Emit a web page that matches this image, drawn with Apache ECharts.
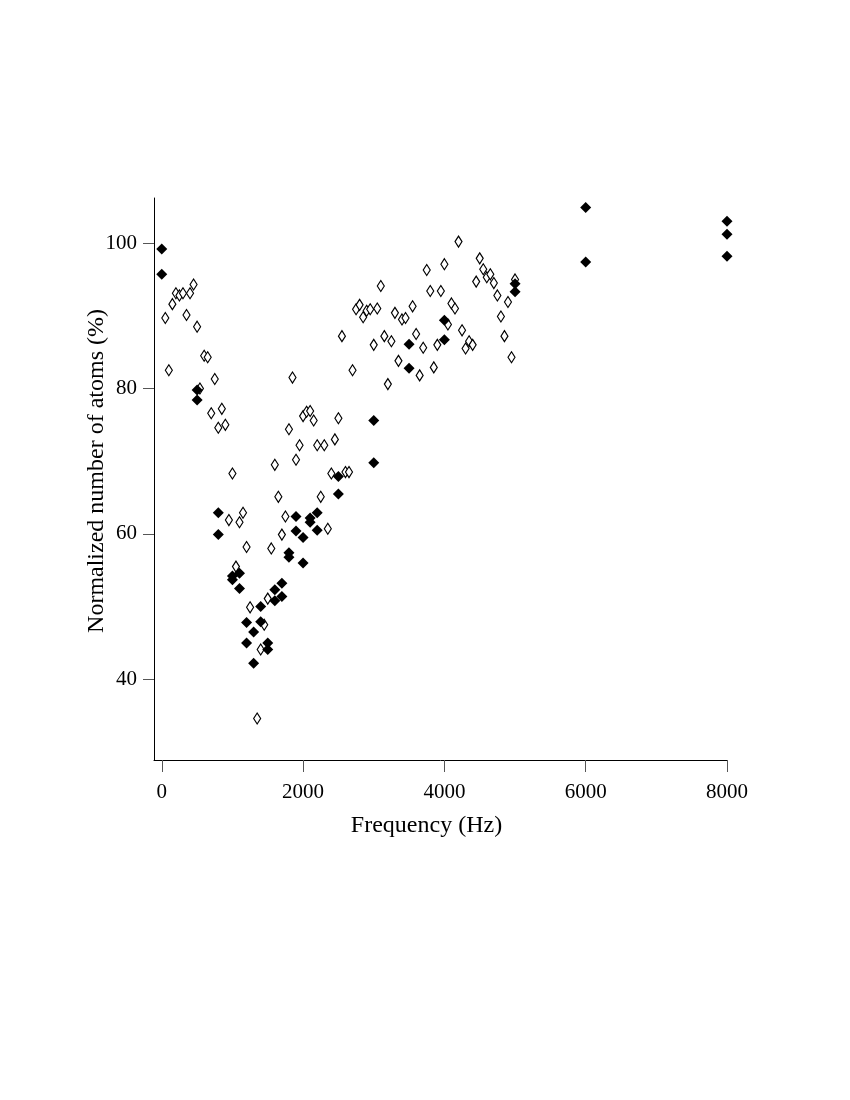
<!DOCTYPE html>
<html lang="en">
<head>
    <meta charset="UTF-8">
    <title>Normalized number of atoms</title>
    <script src="https://cdn.jsdelivr.net/npm/echarts@6/dist/echarts.min.js"></script>
    <style>
        *{
            margin: 0;
            padding: 0;
        }
        body{
            background: #fff;
        }
        .container{
            width: 850px;
            height: 1100px;
        }
    </style>
</head>
<body>
<div class="container"></div>
<script>
    // tick labels
    let xTicks = [0, 2000, 4000, 6000, 8000];
    let yTicks = [40, 60, 80, 100];

    // filled diamonds: [frequency (Hz), normalized atoms (%)]
    let filledPoints = [
        [0, 99.2], [0, 95.7], [500, 79.8], [500, 78.4], [800, 62.9], [800, 59.9],
        [1000, 54.2], [1000, 53.7], [1100, 54.6], [1100, 52.5], [1200, 47.8], [1200, 45.0],
        [1300, 46.5], [1300, 42.2], [1400, 50.0], [1400, 47.9], [1500, 45.0], [1500, 44.1],
        [1600, 52.3], [1600, 50.8], [1700, 53.2], [1700, 51.4], [1800, 57.4], [1800, 56.8],
        [1900, 62.4], [1900, 60.4], [2000, 59.5], [2000, 56.0], [2100, 62.2], [2100, 61.6],
        [2200, 62.9], [2200, 60.5], [2500, 67.9], [2500, 65.5], [3000, 75.6], [3000, 69.8],
        [3500, 86.1], [3500, 82.8], [4000, 89.4], [4000, 86.7], [5000, 94.4], [5000, 93.3],
        [6000, 104.9], [6000, 97.4], [8000, 103.0], [8000, 101.2], [8000, 98.2]
    ];

    // open diamonds
    let openPoints = [
        [50, 89.7], [100, 82.5], [150, 91.6], [200, 93.1], [250, 92.8], [300, 93.1],
        [350, 90.1], [400, 93.1], [450, 94.3], [500, 88.5], [540, 80.0], [600, 84.5],
        [650, 84.3], [700, 76.6], [750, 81.3], [800, 74.6], [850, 77.2], [900, 75.0],
        [950, 61.9], [1000, 68.3], [1050, 55.5], [1100, 61.6], [1150, 62.9], [1200, 58.2],
        [1250, 49.9], [1350, 34.6], [1400, 44.1], [1450, 47.5], [1500, 51.1], [1550, 58.0],
        [1600, 69.5], [1650, 65.1], [1700, 59.9], [1750, 62.4], [1800, 74.4], [1850, 81.5],
        [1900, 70.2], [1950, 72.2], [2000, 76.2], [2050, 76.8], [2100, 76.9], [2150, 75.6],
        [2200, 72.2], [2250, 65.1], [2300, 72.2], [2350, 60.7], [2400, 68.3], [2450, 73.0],
        [2500, 75.9], [2550, 87.2], [2600, 68.5], [2650, 68.5], [2700, 82.5], [2750, 90.9],
        [2800, 91.5], [2850, 89.8], [2900, 90.7], [2950, 90.9], [3000, 86.0], [3050, 91.0],
        [3100, 94.1], [3150, 87.2], [3200, 80.6], [3250, 86.5], [3300, 90.4], [3350, 83.8],
        [3400, 89.5], [3450, 89.7], [3550, 91.3], [3600, 87.5], [3650, 81.8], [3700, 85.6],
        [3750, 96.3], [3800, 93.4], [3850, 82.9], [3900, 86.0], [3950, 93.4], [4000, 97.1],
        [4050, 88.8], [4100, 91.7], [4150, 91.0], [4200, 100.2], [4250, 88.0], [4300, 85.5],
        [4350, 86.5], [4400, 86.0], [4450, 94.7], [4500, 97.9], [4550, 96.4], [4600, 95.3],
        [4650, 95.7], [4700, 94.5], [4750, 92.8], [4800, 89.9], [4850, 87.2], [4900, 91.9],
        [4950, 84.3], [5000, 95.0]
    ];

    let main = document.querySelector(".container");
    let mycharts = echarts.init(main);

    let font = 'Liberation Serif';

    let Option = {
        backgroundColor: '#fff',
        animation: false,
        grid: {
            left: 154,
            right: 123,
            top: 198,
            bottom: 340
        },
        xAxis: {
            type: 'value',
            min: -110,
            max: 8000,
            name: 'Frequency (Hz)',
            nameLocation: 'middle',
            nameGap: 54,
            nameMoveOverlap: false,
            nameTextStyle: {
                fontFamily: font,
                fontSize: 24,
                color: '#000',
                padding: [0, 28, 0, 0]
            },
            axisLine: {
                onZero: false,
                lineStyle: { color: '#000', width: 1 }
            },
            axisTick: {
                customValues: xTicks,
                length: 12,
                lineStyle: { color: '#555', width: 1 }
            },
            axisLabel: {
                customValues: xTicks,
                formatter: v => String(v),
                margin: 22,
                fontFamily: font,
                fontSize: 21,
                color: '#000'
            },
            splitLine: { show: false }
        },
        yAxis: {
            type: 'value',
            min: 28.9,
            max: 106.2,
            name: 'Normalized number of atoms (%)',
            nameLocation: 'middle',
            nameGap: 45,
            nameMoveOverlap: false,
            nameTextStyle: {
                fontFamily: font,
                fontSize: 24,
                color: '#000',
                padding: [0, 0, 0, 16]
            },
            axisLine: {
                show: true,
                onZero: false,
                lineStyle: { color: '#000', width: 1 }
            },
            axisTick: {
                show: true,
                customValues: yTicks,
                length: 11,
                lineStyle: { color: '#555', width: 1 }
            },
            axisLabel: {
                customValues: yTicks,
                formatter: v => String(v),
                margin: 17,
                fontFamily: font,
                fontSize: 21,
                color: '#000'
            },
            splitLine: { show: false }
        },
        series: [
            {
                name: 'open',
                type: 'scatter',
                data: openPoints,
                symbol: 'diamond',
                symbolSize: [7, 11],
                itemStyle: {
                    color: '#fff',
                    borderColor: '#000',
                    borderWidth: 1.2,
                    opacity: 1
                },
                z: 2
            },
            {
                name: 'filled',
                type: 'scatter',
                data: filledPoints,
                symbol: 'diamond',
                symbolSize: [11, 11],
                itemStyle: {
                    color: '#000',
                    opacity: 1
                },
                z: 3
            }
        ]
    };

    mycharts.setOption(Option);
</script>
</body>
</html>
